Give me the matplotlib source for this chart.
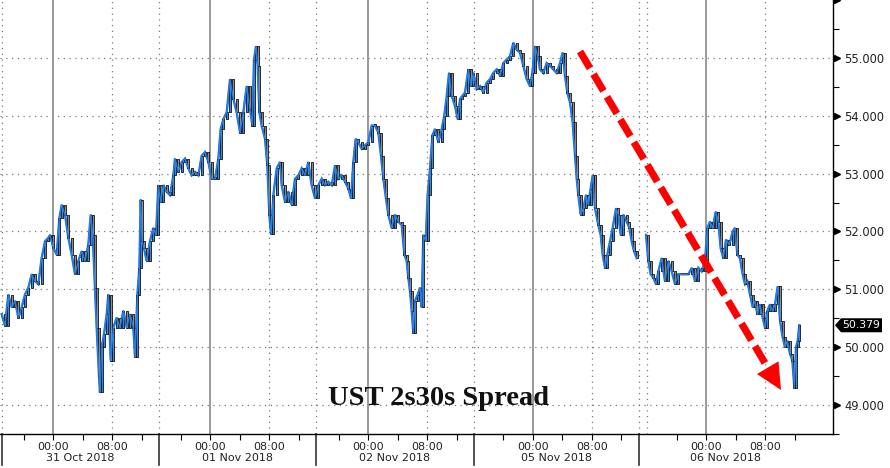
import numpy as np
import matplotlib
matplotlib.use("Agg")
import matplotlib.pyplot as plt
from matplotlib.patches import Rectangle, Polygon
from matplotlib.collections import PatchCollection
import matplotlib.transforms as mtransforms

# ---------------- data ----------------
# x: compressed session hours, 0 = 31 Oct 2018 00:00 (chart time scale)
times_a = [-6.96, -6.51, -6.06, -5.60, -5.15, -4.70, -4.25, -3.80, -3.34, -2.89,
           -2.44, -1.99, -1.54, -1.08, -0.63, -0.41, 0.05, 0.50, 0.86, 1.18,
           1.63, 2.08, 2.53, 2.98, 3.44, 3.89, 4.34, 4.79, 5.11, 5.38,
           5.69, 5.92, 6.24, 6.37, 6.60, 6.92, 7.28, 7.50, 7.82, 8.18,
           8.63, 9.08, 9.54, 9.99, 10.44, 10.89, 11.12, 11.44, 11.71, 11.89,
           12.07, 12.34, 12.70, 13.15, 13.60, 13.97, 14.28, 14.60, 14.96, 15.41,
           15.86, 16.32, 16.54, 16.99, 17.45, 17.90, 18.35, 18.80, 19.25, 19.71,
           20.16, 20.61, 21.06, 21.51, 21.97, 22.42, 22.73, 23.10, 23.55, 24.00,
           24.45, 24.90, 25.36, 25.81, 26.26, 26.71, 27.03, 27.25, 27.53, 27.75,
           27.98, 28.29, 28.75, 29.06, 29.33, 29.56, 29.88, 30.33, 30.78,
           31.01, 31.46, 31.91, 32.36, 32.81, 33.27, 33.72, 34.17, 34.62, 35.07,
           35.53, 35.98, 36.43, 36.88, 37.33, 37.79, 38.24, 38.69, 39.14, 39.59,
           40.05, 40.41, 40.72, 41.04, 41.40, 41.85, 42.31, 42.76, 43.21, 43.66,
           44.11, 44.47, 44.79, 45.15, 45.47, 45.92, 46.37, 46.82, 47.28, 47.64,
           47.95, 48.18, 48.41, 48.63, 48.86, 49.08, 49.45, 49.76, 49.99, 50.21,
           50.53, 50.80, 51.12, 51.44, 51.80, 52.25, 52.70, 53.06, 53.38, 53.70,
           54.06, 54.51, 54.87, 55.19, 55.50, 55.86, 56.32, 56.68, 56.99, 57.45,
           57.90, 58.35, 58.80, 59.25, 59.71, 60.16, 60.61, 61.06, 61.51, 61.97,
           62.42, 62.87, 63.32, 63.77, 64.23, 64.68, 64.99, 65.36, 65.72, 66.03,
           66.49, 66.94, 67.39, 67.84,
           68.29, 68.75, 69.11, 69.42, 69.74, 70.10, 70.46, 70.78, 71.01, 71.23,
           71.55, 71.91, 72.27, 72.59, 72.90, 73.18, 73.49, 73.94, 74.26, 74.53,
           74.85, 75.16, 75.53, 75.89, 76.34, 76.66, 76.97, 77.33, 77.79, 78.15,
           78.46, 78.78, 79.14]
spread_a = [50.57, 50.37, 50.91, 50.69, 50.80, 50.51, 50.69, 50.91, 51.03, 51.26,
            51.14, 51.09, 51.54, 51.83, 51.89, 51.94, 51.71, 51.60, 52.23, 52.46,
            52.29, 51.89, 51.60, 51.26, 51.49, 51.66, 51.49, 51.77, 52.29, 51.94,
            51.03, 50.34, 49.49, 49.22, 50.00, 50.23, 50.57, 50.91, 49.77, 50.34,
            50.51, 50.34, 50.63, 50.34, 50.57, 50.34, 49.83, 50.91, 51.37, 52.55,
            51.83, 51.71, 51.49, 51.83, 52.06, 51.94, 52.80, 52.51, 52.80, 52.69,
            52.63, 52.97, 53.26, 53.03, 53.20, 53.26, 53.09, 52.97, 53.03, 52.97,
            53.31, 53.37, 53.20, 52.91, 52.91, 53.26, 53.77, 53.94, 54.06, 54.63,
            54.29, 54.06, 53.71, 54.06, 54.51, 54.11, 53.83, 54.97, 55.20, 54.86,
            54.06, 53.83, 53.60, 53.14, 52.29, 51.95, 52.63, 53.09, 53.20,
            52.80, 52.51, 52.69, 52.46, 52.91, 52.97, 53.09, 52.97, 53.20, 52.80,
            52.57, 52.80, 52.91, 52.80, 52.86, 52.80, 53.14, 52.91, 52.97, 52.86,
            52.74, 52.57, 53.20, 53.60, 53.54, 53.43, 53.49, 53.54, 53.83, 53.83,
            53.71, 53.31, 52.91, 52.57, 52.29, 52.06, 52.29, 52.17, 52.11, 51.60,
            51.49, 51.20, 50.97, 50.63, 50.25, 50.80, 50.91, 51.03, 50.69, 51.94,
            51.83, 52.63, 53.09, 53.66, 53.77, 53.54, 53.77, 54.00, 54.34, 54.74,
            54.34, 54.17, 53.94, 54.29, 54.34, 54.40, 54.80, 54.51, 54.74, 54.46,
            54.51, 54.40, 54.57, 54.63, 54.74, 54.80, 54.69, 54.91, 54.97, 55.03,
            55.26, 55.14, 55.09, 54.86, 54.63, 54.51, 54.74, 55.20, 55.03, 54.80,
            54.74, 54.91, 54.86, 54.80,
            54.74, 54.91, 55.09, 54.69, 54.40, 54.23, 53.89, 53.31, 52.91, 52.63,
            52.29, 52.40, 52.63, 52.46, 52.74, 52.97, 52.40, 52.11, 51.94, 51.60,
            51.37, 51.60, 51.83, 52.06, 52.40, 52.29, 51.94, 52.29, 52.17, 52.06,
            51.83, 51.66, 51.54]

times_b = [80.41, 80.72, 81.04, 81.40, 81.76, 82.08, 82.53, 82.98, 83.44, 83.89,
           84.34, 84.79, 85.24, 85.69, 86.15, 86.60, 87.05, 87.50, 87.95, 88.41,
           88.72, 89.08, 89.45, 89.85, 90.21, 90.53, 90.89, 91.25, 91.71, 92.16,
           92.47, 92.79, 93.15, 93.51, 93.83, 94.15, 94.51, 94.87, 95.19, 95.50,
           95.86, 96.23, 96.54, 96.86, 97.22, 97.58, 97.90, 98.26, 98.58, 98.94,
           99.25, 99.57, 99.93, 100.25, 100.52, 100.75, 100.97, 101.20]
spread_b = [51.94, 51.49, 51.26, 51.20, 51.09, 51.31, 51.54, 51.14, 51.49, 51.31,
            51.09, 51.26, 51.26, 51.26, 51.26, 51.37, 51.14, 51.37, 51.31, 51.49,
            52.06, 52.17, 52.06, 52.34, 52.17, 51.71, 51.54, 51.86, 51.77, 52.00,
            52.06, 51.60, 51.54, 51.26, 51.09, 51.14, 50.91, 50.69, 50.80, 50.57,
            50.74, 50.51, 50.34, 50.63, 50.74, 50.63, 50.74, 51.05, 50.46, 50.17,
            50.00, 50.11, 49.89, 49.77, 49.30, 50.00, 50.11, 50.379]
last_price = 50.379

day_labels = ["31 Oct 2018", "01 Nov 2018", "02 Nov 2018", "05 Nov 2018", "06 Nov 2018"]
day_starts = [-6.92, 14.37, 35.66, 57.08, 79.46]
day_ends = [14.37, 35.66, 57.08, 79.46, 102.8]
midnights = [0.0, 21.29, 42.71, 65.08, 88.54]
time_labels = ["00:00", "08:00"]
y_ticks = [49, 50, 51, 52, 53, 54, 55, 56]
title_text = "UST 2s30s Spread"

# ---------------- figure ----------------
W, H = 890, 468
fig = plt.figure(figsize=(W / 100, H / 100), dpi=100)
fig.patch.set_facecolor("white")
ax = fig.add_axes([0, 34 / H, 833 / W, 434 / H])
ax.set_xlim(-7.19, 105.76)
ax.set_ylim(48.56, 56.0)

blend_x = mtransforms.blended_transform_factory(ax.transData, ax.transAxes)
blend_y = mtransforms.blended_transform_factory(ax.transAxes, ax.transData)

# grid
dot = (0, (1, 3.6))
for y in y_ticks[:-1]:
    ax.axhline(y, color="#7a7a7a", lw=0.9, ls=dot, zorder=0)
for s in day_starts:
    ax.axvline(s, color="#7a7a7a", lw=0.9, ls=dot, zorder=0)
ax.axvline(80.5, color="#7a7a7a", lw=0.9, ls=dot, zorder=0)
for m in midnights:
    ax.axvline(m + 8, color="#7a7a7a", lw=0.9, ls=dot, zorder=0)
    ax.axvline(m, color="#9a9a9a", lw=1.4, zorder=0)


def draw_series(times, vals):
    rects, faces = [], []
    w = 0.27
    for i in range(1, len(vals)):
        o, c = vals[i - 1], vals[i]
        lo = min(o, c)
        h = max(abs(c - o), 0.03)
        rects.append(Rectangle((times[i] - w / 2, lo), w, h))
        faces.append("#3b87dc" if c >= o else "#8c8c8c")
    ax.plot(times, vals, color="#1f6fd6", lw=1.7, zorder=2, solid_joinstyle="miter")
    pc = PatchCollection(rects, facecolors=faces, edgecolors="#111111", linewidths=0.6, zorder=3)
    ax.add_collection(pc)
    ax.plot(times, vals, color="#2a7de0", lw=1.0, zorder=4)


draw_series(times_a, spread_a)
draw_series(times_b, spread_b)

# spines
for side in ("left", "top"):
    ax.spines[side].set_visible(False)
ax.spines["right"].set_color("black")
ax.spines["bottom"].set_color("black")
ax.spines["right"].set_linewidth(1.0)
ax.spines["bottom"].set_linewidth(1.0)

# y axis on the right (top tick at 56 has its label cut off in the reference)
ax.yaxis.tick_right()
ax.set_yticks(y_ticks)
ax.set_yticklabels([f"{v:.3f}" if v < 56 else "" for v in y_ticks], fontsize=8.3, color="#222222")
ax.set_yticks([v + 0.5 for v in range(48, 56)], minor=True)
ax.tick_params(axis="y", which="major", length=0, pad=8)
ax.tick_params(axis="y", which="minor", length=4, width=0.8, direction="out", right=True, left=False)
tri_tr = blend_y + mtransforms.ScaledTranslation(4 / 100, 0, fig.dpi_scale_trans)
ax.plot([1] * len(y_ticks), y_ticks, ls="none", marker=">", ms=5, color="black",
        transform=tri_tr, clip_on=False)

# x axis
xt, xl = [], []
for m in midnights:
    xt += [m, m + 8]
    xl += time_labels
ax.set_xticks(xt)
ax.set_xticklabels(xl, fontsize=8, color="#222222")
ax.set_xticks([m + d for m in midnights for d in (-4, 4, 12)], minor=True)
ax.tick_params(axis="x", which="major", length=4, width=0.8, pad=2)
ax.tick_params(axis="x", which="minor", length=4, width=0.8)

for s, e, lab in zip(day_starts, day_ends, day_labels):
    ax.text((s + e) / 2, -24 / 434, lab, transform=blend_x, ha="center", va="center",
            fontsize=8, color="#222222")
    ax.plot([s, s], [0, -31 / 434], transform=blend_x, color="#333333", lw=1.2, clip_on=False)

# title text inside plot
ax.text(439 / 833, 29 / 434, title_text, transform=ax.transAxes, ha="center", va="baseline",
        fontsize=20.5, fontweight="bold", family=["Liberation Serif", "DejaVu Serif"], color="#111111",
        zorder=6)

# red dashed arrow
fig.canvas.draw()
arrow_start = (71.46, 55.11)
arrow_tip = (98.71, 49.26)
p0 = ax.transData.transform(arrow_start)
p1 = ax.transData.transform(arrow_tip)
d = (p1 - p0) / np.hypot(*(p1 - p0))
perp = np.array([-d[1], d[0]])
head_len, head_half = 26, 12.5
base = p1 - head_len * d
line_end = ax.transData.inverted().transform(base + 1 * d)
ax.plot([arrow_start[0], line_end[0]], [arrow_start[1], line_end[1]], color="#ff0000", lw=5.2,
        dashes=(2.7, 0.95), dash_capstyle="butt", zorder=7)
head = Polygon([p1, base + head_half * perp, base - head_half * perp], closed=True,
               transform=mtransforms.IdentityTransform(), facecolor="#ff0000", edgecolor="none",
               zorder=8, clip_on=False)
ax.add_patch(head)

# last price label
yl = ax.transData.transform((0, last_price))[1]
box = Polygon([(835, yl), (841, yl + 7), (882, yl + 7), (882, yl - 7), (841, yl - 7)], closed=True,
              transform=mtransforms.IdentityTransform(), facecolor="black", edgecolor="none")
fig.add_artist(box)
fig.text(861.5 / W, yl / H, f"{last_price:.3f}", color="white", ha="center", va="center", fontsize=7.8)

fig.savefig("out.png", dpi=100, facecolor="white")
